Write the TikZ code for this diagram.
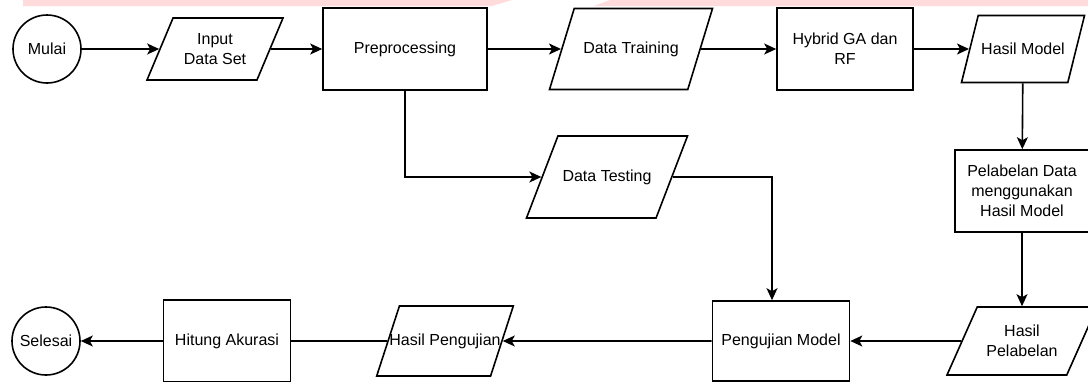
\documentclass[tikz,border=0pt]{standalone}
\usepackage{fontspec}
\setmainfont{Liberation Sans}
\usetikzlibrary{arrows.meta, shapes.geometric}

\begin{document}
\begin{tikzpicture}[x=0.5pt,y=-0.5pt,
    font=\fontsize{8}{10}\selectfont,
    every node/.style={align=center, line width=0.8pt},
    terminal/.style={draw, circle, minimum size=34pt, inner sep=0pt},
    process/.style={draw, rectangle, inner sep=0pt},
    io/.style 2 args={draw, trapezium, trapezium left angle=#1, trapezium right angle=#2,
        trapezium stretches body=true, inner xsep=0pt},
    flow/.style={line width=0.8pt, -{Stealth[length=6pt,width=5.5pt,inset=1.5pt]}},
    link/.style={line width=0.8pt}]
\useasboundingbox (0,0) rectangle (1088,381);

\fill[red!14] (23,0) -- (512,0) -- (492,6) -- (23,6) -- cycle; %pink strip
\fill[red!14] (610,0) -- (1088,0) -- (1088,6) -- (594,6) -- cycle;

% top row
\node[terminal] (mulai) at (47,49) {Mulai};
\node[io={67}{113}, inner ysep=7.55pt, minimum width=68pt, minimum height=31pt] (input) at (215,49) {Input\\Data Set};
\node[process, minimum width=82pt, minimum height=41pt] (prep) at (405,49) {Preprocessing};
\node[io={73}{107}, inner ysep=16.5pt, minimum width=81.5pt, minimum height=40.5pt] (train) at (631,49) {Data Training};
\node[process, minimum width=68pt, minimum height=41pt] (hybrid) at (845,49) {Hybrid GA dan\\RF};
\node[io={76}{104}, inner ysep=13.8pt, minimum width=61.5pt, minimum height=33.5pt] (hmodel) at (1023,49) {Hasil Model};

% middle row
\node[io={69}{111}, inner ysep=16.75pt, minimum width=80.5pt, minimum height=41pt] (testing) at (607,177) {Data Testing};
\node[process, minimum width=67pt, minimum height=41pt] (label) at (1022,191) {Pelabelan Data\\menggunakan\\Hasil Model};

% bottom row
\node[io={66}{114}, inner ysep=9.05pt, minimum width=75pt, minimum height=34pt] (hpel) at (1022,341) {Hasil\\Pelabelan};
\node[process, minimum width=68.5pt, minimum height=40pt] (uji) at (781,341) {Pengujian Model};
\node[io={72}{108}, inner ysep=13.75pt, inner xsep=-5pt, minimum width=67.5pt, minimum height=35pt] (hpeng) at (445,341) {Hasil Pengujian};
\node[process, minimum width=63.5pt, minimum height=41pt] (hitung) at (227,341) {Hitung Akurasi};
\node[terminal] (selesai) at (46,341) {Selesai};

\draw[flow] (mulai) -- (input);
\draw[flow] (input) -- (prep);
\draw[flow] (prep) -- (train);
\draw[flow] (train) -- (hybrid);
\draw[flow] (hybrid) -- (hmodel);
\draw[flow] (hmodel) -- (label);
\draw[flow] (label) -- (hpel);
\draw[flow] (hpel) -- (uji);
\draw[flow] (uji) -- (hpeng);
\draw[link] (hpeng) -- (hitung);
\draw[flow] (hitung) -- (selesai);

\draw[flow] (prep.south) |- (testing.west); %split to testing
\draw[flow] (testing.east) -| ([xshift=-4.5pt]uji.north);

\end{tikzpicture}
\end{document}
